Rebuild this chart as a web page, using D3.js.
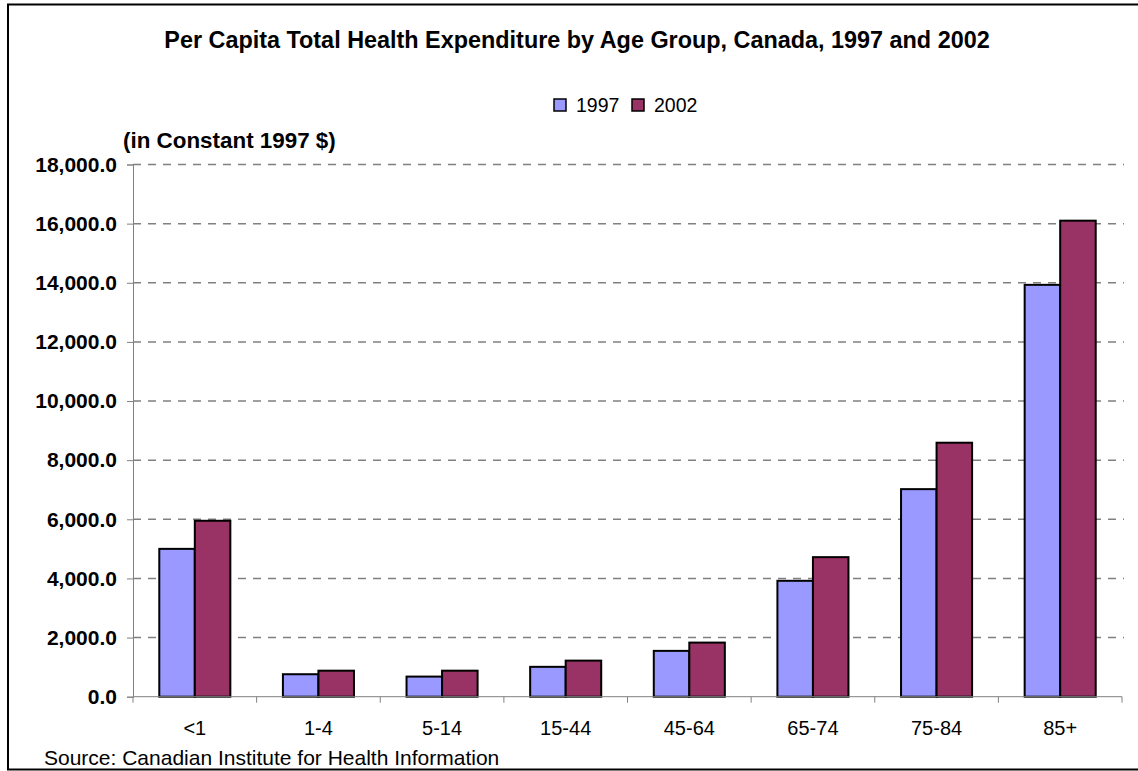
<!DOCTYPE html>
<html>
<head>
<meta charset="utf-8">
<script src="https://cdn.jsdelivr.net/npm/d3@7"></script>
<style>
  body { margin: 0; background: #fff; }
  svg text { font-family: Arial, "Liberation Sans", sans-serif; fill: #000; }
</style>
</head>
<body>
<div class="viewbox"></div>
<script>
// age groups along the x axis
const ageGroups = ["<1", "1-4", "5-14", "15-44", "45-64", "65-74", "75-84", "85+"]
const seriesNames = ["1997", "2002"]
// per capita spending, constant 1997 $
const values1997 = [5000, 760, 680, 1010, 1550, 3920, 7020, 13930]
const values2002 = [5950, 880, 880, 1220, 1830, 4720, 8590, 16100]
const yTicks = [0, 2000, 4000, 6000, 8000, 10000, 12000, 14000, 16000, 18000]

const COLORS = { "1997": "#9999ff", "2002": "#993366" }

const svg_width = 1138
const svg_height = 771

let svg = d3.select(".viewbox")
  .append("svg")
  .attr("width", svg_width)
  .attr("height", svg_height)

// outer chart frame (runs off the right edge like the original)
svg.append("rect")
  .attr("x", 8).attr("y", 4.5)
  .attr("width", 1150).attr("height", 765)
  .attr("fill", "none")
  .attr("stroke", "#000")
  .attr("stroke-width", 2)

const plot = { left: 133, right: 1122, top: 164.5, bottom: 696.7 }

let data = ageGroups.map((g, i) => ({ group: g, "1997": values1997[i], "2002": values2002[i] }))

let x0 = d3.scaleBand().domain(ageGroups).range([plot.left, plot.right]).padding(0)
let x1 = d3.scaleBand().domain(seriesNames).range([0, x0.bandwidth()])
  .paddingInner(0).paddingOuter(0.74)
let y = d3.scaleLinear().domain([0, 18000]).range([plot.bottom, plot.top])

// dashed gridlines
svg.append("g")
  .selectAll("line")
  .data(yTicks.filter(d => d > 0))
  .enter()
  .append("line")
  .attr("x1", plot.left).attr("x2", plot.right + 2)
  .attr("y1", d => y(d)).attr("y2", d => y(d))
  .attr("stroke", "#808080")
  .attr("stroke-width", 1.5)
  .attr("stroke-dasharray", "8,7")

// y axis
let yAxis = svg.append("g")
  .attr("transform", `translate(${plot.left},0)`)
  .call(d3.axisLeft(y).tickValues(yTicks).tickSize(6).tickPadding(10).tickFormat(d3.format(",.1f")))
yAxis.select(".domain").attr("stroke", "#808080")
yAxis.selectAll(".tick line").attr("stroke", "#808080")
yAxis.selectAll("text")
  .style("font-size", "21px")
  .style("font-weight", "bold")
  .attr("font-family", null)

// bars
let groups = svg.append("g")
  .selectAll("g")
  .data(data)
  .enter()
  .append("g")
  .attr("transform", d => `translate(${x0(d.group)},0)`)

groups.selectAll("rect")
  .data(d => seriesNames.map(s => ({ key: s, value: d[s] })))
  .enter()
  .append("rect")
  .attr("x", d => x1(d.key))
  .attr("width", x1.bandwidth())
  .attr("y", d => y(d.value))
  .attr("height", d => y(0) - y(d.value))
  .attr("fill", d => COLORS[d.key])
  .attr("stroke", "#000")
  .attr("stroke-width", 2)

// x axis, ticks sit between categories
let xAxisG = svg.append("g")
xAxisG.append("line")
  .attr("x1", plot.left).attr("x2", plot.right)
  .attr("y1", plot.bottom).attr("y2", plot.bottom)
  .attr("stroke", "#808080")
xAxisG.selectAll("line.tick")
  .data(ageGroups.concat(["end"]))
  .enter()
  .append("line")
  .attr("class", "tick")
  .attr("x1", (d, i) => plot.left + i * x0.step())
  .attr("x2", (d, i) => plot.left + i * x0.step())
  .attr("y1", plot.bottom).attr("y2", plot.bottom + 6)
  .attr("stroke", "#808080")
xAxisG.selectAll("text")
  .data(ageGroups)
  .enter()
  .append("text")
  .attr("x", d => x0(d) + x0.bandwidth() / 2)
  .attr("y", 735)
  .attr("text-anchor", "middle")
  .style("font-size", "20px")
  .text(d => d)

// title and labels
svg.append("text")
  .attr("x", 577).attr("y", 48.3)
  .attr("text-anchor", "middle")
  .style("font-size", "23.4px")
  .style("font-weight", "bold")
  .text("Per Capita Total Health Expenditure by Age Group, Canada, 1997 and 2002")

svg.append("text")
  .attr("x", 123).attr("y", 147.7)
  .style("font-size", "22.4px")
  .style("font-weight", "bold")
  .text("(in Constant 1997 $)")

svg.append("text")
  .attr("x", 44).attr("y", 765)
  .style("font-size", "21px")
  .text("Source: Canadian Institute for Health Information")

// legend
let legend = svg.append("g")
let legendX = { "1997": 554, "2002": 632 }
seriesNames.forEach(s => {
  legend.append("rect")
    .attr("x", legendX[s]).attr("y", 99)
    .attr("width", 12).attr("height", 12)
    .attr("fill", COLORS[s])
    .attr("stroke", "#000")
    .attr("stroke-width", 1.5)
  legend.append("text")
    .attr("x", legendX[s] + 22).attr("y", 111.5)
    .style("font-size", "19.5px")
    .text(s)
})
</script>
</body>
</html>
